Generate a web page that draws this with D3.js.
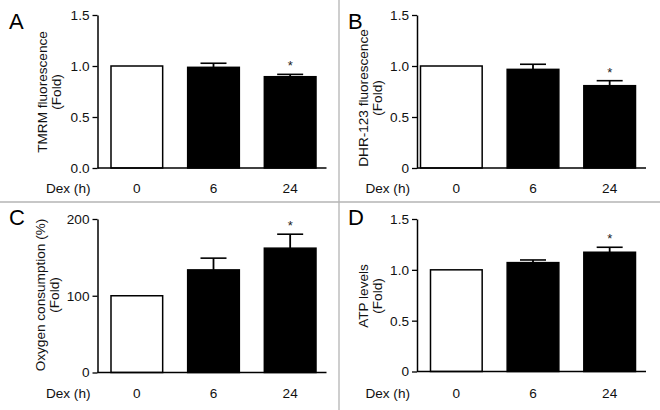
<!DOCTYPE html>
<html><head><meta charset="utf-8">
<script src="https://cdn.jsdelivr.net/npm/d3@7"></script>
<style>
body{margin:0;background:#fff;}
svg{display:block;font-family:Arial,"Liberation Sans",sans-serif;}
</style></head>
<body><svg id="c" width="660" height="410"></svg>
<script>
const categories = ["0", "6", "24"];
const xLabel = "Dex (h)";
const panelLetters = ["A", "B", "C", "D"];
const yTitles = [["TMRM fluorescence", "(Fold)"], ["DHR-123 fluorescence", "(Fold)"], ["Oxygen consumption (%)", "(Fold)"], ["ATP levels", "(Fold)"]];
const meansA = [1.0, 0.987, 0.895];
const errA = [0, 0.04, 0.023];
const meansB = [1.0, 0.967, 0.807];
const errB = [0, 0.05, 0.049];
const meansC = [100, 133.7, 162];
const errC = [0, 15.3, 18.2];
const meansD = [1.0, 1.071, 1.173];
const errD = [0, 0.026, 0.049];
const sigA = [false, false, true];
const sigB = [false, false, true];
const sigC = [false, false, true];
const sigD = [false, false, true];
const ticksA = [{v:0,t:"0.0"},{v:0.5,t:"0.5"},{v:1.0,t:"1.0"},{v:1.5,t:"1.5"}];
const ticksB = [{v:0,t:"0"},{v:0.5,t:"0.5"},{v:1.0,t:"1.0"},{v:1.5,t:"1.5"}];
const ticksC = [{v:0,t:"0"},{v:100,t:"100"},{v:200,t:"200"}];
const ticksD = [{v:0,t:"0"},{v:0.5,t:"0.5"},{v:1.0,t:"1.0"},{v:1.5,t:"1.5"}];

const svg = d3.select("#c");
const FS = 13.6;

// divider lines
svg.append("line").attr("x1",339).attr("x2",339).attr("y1",0).attr("y2",410).attr("stroke","#b4b4b4").attr("stroke-width",1.3);
svg.append("line").attr("x1",0).attr("x2",660).attr("y1",202).attr("y2",202).attr("stroke","#b4b4b4").attr("stroke-width",1.3);

const panels = [
  {letter:0, means:meansA, err:errA, sig:sigA, ticks:ticksA, max:1.5, ax:97.5, top:15, bottom:168, lx:9, ly:29, t1x:42, t2x:56, tMid:92, catY:193, wideFirst:0},
  {letter:1, means:meansB, err:errB, sig:sigB, ticks:ticksB, max:1.5, ax:417, top:15, bottom:168, lx:348, ly:29, t1x:363, t2x:377, tMid:98, catY:193, wideFirst:10},
  {letter:2, means:meansC, err:errC, sig:sigC, ticks:ticksC, max:200, ax:97.5, top:219, bottom:372.5, lx:9, ly:225, t1x:40, t2x:54, tMid:295, catY:398, wideFirst:0},
  {letter:3, means:meansD, err:errD, sig:sigD, ticks:ticksD, max:1.5, ax:417, top:219, bottom:371.5, lx:348, ly:225, t1x:363, t2x:377, tMid:296, catY:398, wideFirst:0}
];

panels.forEach(p => {
  const g = svg.append("g");
  const y = d3.scaleLinear().domain([0, p.max]).range([p.bottom, p.top]);
  const x = d3.scaleBand().domain(categories).range([p.ax + 1, p.ax + 1 + 230]).paddingInner(0.326).paddingOuter(0.163);

  // bars
  categories.forEach((c, i) => {
    const extra = i === 0 ? p.wideFirst : 0;
    g.append("rect")
      .attr("x", x(c) - extra)
      .attr("y", y(p.means[i]))
      .attr("width", x.bandwidth() + extra)
      .attr("height", y(0) - y(p.means[i]))
      .attr("fill", i === 0 ? "#fff" : "#000")
      .attr("stroke", "#000").attr("stroke-width", 1.5);
    if (p.err[i] > 0) {
      const cx = x(c) + x.bandwidth() / 2;
      const yt = y(p.means[i] + p.err[i]);
      g.append("line").attr("x1", cx).attr("x2", cx).attr("y1", y(p.means[i])).attr("y2", yt).attr("stroke", "#000").attr("stroke-width", 1.8);
      g.append("line").attr("x1", cx - 13).attr("x2", cx + 13).attr("y1", yt).attr("y2", yt).attr("stroke", "#000").attr("stroke-width", 1.6);
      if (p.sig[i]) {
        g.append("text").attr("x", cx).attr("y", yt - 4).attr("text-anchor", "middle").attr("font-size", 13).attr("fill", "#222").text("*");
      }
    }
  });

  // y axis
  const yAxis = d3.axisLeft(y).tickValues(p.ticks.map(d => d.v)).tickFormat((d, i) => p.ticks[i].t).tickSize(5).tickSizeOuter(0).tickPadding(3);
  const ya = g.append("g").attr("transform", `translate(${p.ax},0)`).call(yAxis);
  ya.select(".domain").attr("stroke", "#000").attr("stroke-width", 1.5);
  ya.selectAll(".tick line").attr("stroke", "#000").attr("stroke-width", 1.3);
  ya.selectAll(".tick text").attr("font-size", FS).attr("fill", "#111").attr("font-family", "Arial, 'Liberation Sans', sans-serif");

  // x axis baseline
  g.append("line").attr("x1", p.ax).attr("x2", p.ax + 229).attr("y1", y(0)).attr("y2", y(0)).attr("stroke", "#000").attr("stroke-width", 1.5);

  // category labels
  categories.forEach(c => {
    g.append("text").attr("x", x(c) + x.bandwidth() / 2).attr("y", p.catY).attr("text-anchor", "middle").attr("font-size", FS).attr("fill", "#111").text(c);
  });
  g.append("text").attr("x", p.ax - 7).attr("y", p.catY).attr("text-anchor", "end").attr("font-size", FS).attr("fill", "#111").text(xLabel);

  // y titles
  g.append("text").attr("transform", `translate(${p.t1x},${p.tMid}) rotate(-90)`).attr("text-anchor", "middle").attr("dy", "0.35em").attr("font-size", FS).attr("fill", "#111").text(yTitles[p.letter][0]);
  g.append("text").attr("transform", `translate(${p.t2x},${p.tMid}) rotate(-90)`).attr("text-anchor", "middle").attr("dy", "0.35em").attr("font-size", FS).attr("fill", "#111").text(yTitles[p.letter][1]);

  // panel letter
  g.append("text").attr("x", p.lx).attr("y", p.ly).attr("font-size", 22).attr("fill", "#000").text(panelLetters[p.letter]);
});
</script>
</body></html>
